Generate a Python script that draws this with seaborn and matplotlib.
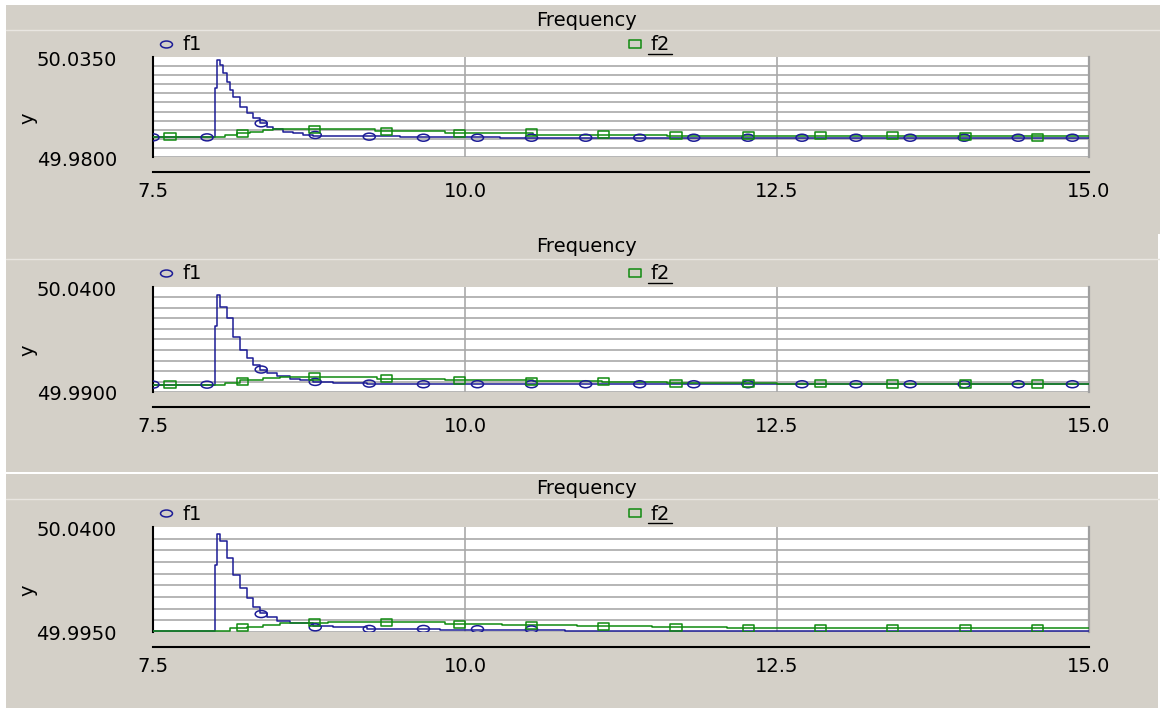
"""
Three stacked frequency panels (f1 / f2 step traces) in an old-style
chart look: grey frame, white plot area, x axis detached below.
"""

import numpy as np
import pandas as pd
import matplotlib
matplotlib.use("Agg")
import matplotlib.pyplot as plt
from matplotlib.path import Path
from matplotlib.transforms import Affine2D
from matplotlib.lines import Line2D
from matplotlib.patches import Rectangle
import seaborn as sns

# ── Data ──────────────────────────────────────────────────────────
X_TICKS = [7.5, 10.0, 12.5, 15.0]
X_LABELS = ["7.5", "10.0", "12.5", "15.0"]

F1_MARK_T = [7.500, 7.933, 8.367, 8.800, 9.233, 9.667, 10.100, 10.533, 10.967,
             11.400, 11.833, 12.267, 12.700, 13.133, 13.567, 14.000, 14.433, 14.867]
F2_MARK_T = [7.636, 8.215, 8.795, 9.374, 9.953, 10.532, 11.112, 11.691,
             12.270, 12.849, 13.429, 14.008, 14.587]

# panel 1
p1_f1_t = [7.500, 8.000, 8.015, 8.037, 8.063, 8.091, 8.117, 8.143, 8.197, 8.251,
           8.304, 8.357, 8.411, 8.464, 8.544, 8.624, 8.704, 8.784, 8.918, 9.479,
           10.280, 15.000]
p1_f1_v = [49.9910, 50.0181, 50.0334, 50.0306, 50.0260, 50.0214, 50.0169, 50.0132,
           50.0077, 50.0040, 50.0013, 49.9989, 49.9967, 49.9952, 49.9939, 49.9930,
           49.9921, 49.9916, 49.9913, 49.9910, 49.9907, 49.9907]
p1_f1_mv = [49.9908, 49.9908, 49.9985, 49.9921, 49.9912, 49.9906, 49.9906, 49.9906,
            49.9906, 49.9906, 49.9906, 49.9906, 49.9906, 49.9906, 49.9906, 49.9906,
            49.9906, 49.9906]
p1_f2_t = [7.500, 8.077, 8.173, 8.277, 8.381, 8.462, 9.279, 9.840, 10.545, 11.619, 15.000]
p1_f2_v = [49.9911, 49.9919, 49.9930, 49.9940, 49.9951, 49.9956, 49.9945, 49.9931,
           49.9921, 49.9913, 49.9913]
p1_f2_mv = [49.9912, 49.9930, 49.9949, 49.9940, 49.9930, 49.9934, 49.9925, 49.9916,
            49.9916, 49.9916, 49.9916, 49.9913, 49.9908]

# panel 2
p2_f1_t = [7.500, 8.000, 8.015, 8.037, 8.091, 8.143, 8.197, 8.251, 8.304, 8.357,
           8.411, 8.491, 8.598, 8.678, 8.784, 8.945, 9.212, 9.639, 15.000]
p2_f1_v = [49.9935, 50.0215, 50.0360, 50.0307, 50.0252, 50.0163, 50.0100, 50.0060,
           50.0028, 50.0007, 49.9991, 49.9975, 49.9961, 49.9956, 49.9948, 49.9943,
           49.9940, 49.9937, 49.9937]
p2_f1_mv = [49.9935, 49.9935, 50.0007, 49.9948, 49.9940, 49.9937, 49.9937, 49.9937,
            49.9937, 49.9937, 49.9937, 49.9937, 49.9937, 49.9937, 49.9937, 49.9937,
            49.9937, 49.9937]
p2_f2_t = [7.500, 8.077, 8.197, 8.384, 8.518, 9.292, 9.840, 10.545, 11.100, 11.619,
           12.500, 15.000]
p2_f2_v = [49.9935, 49.9943, 49.9956, 49.9969, 49.9972, 49.9964, 49.9956, 49.9951,
           49.9946, 49.9942, 49.9938, 49.9938]
p2_f2_mv = [49.9935, 49.9952, 49.9972, 49.9964, 49.9956, 49.9951, 49.9949, 49.9942,
            49.9942, 49.9940, 49.9938, 49.9938, 49.9938]

# panel 3 (markers sitting on the lower edge are not drawn in the reference)
p3_f1_t = [7.500, 8.000, 8.015, 8.037, 8.091, 8.143, 8.197, 8.251, 8.304, 8.357,
           8.411, 8.491, 8.598, 8.784, 8.945, 9.212, 9.800, 10.800, 15.000]
p3_f1_v = [49.9956, 50.0238, 50.0371, 50.0338, 50.0267, 50.0195, 50.0138, 50.0095,
           50.0059, 50.0033, 50.0016, 49.9999, 49.9987, 49.9976, 49.9970, 49.9963,
           49.9959, 49.9955, 49.9955]
p3_f1_mt = [8.367, 8.800, 9.233, 9.667, 10.100, 10.533]
p3_f1_mv = [50.0027, 49.9970, 49.9963, 49.9963, 49.9962, 49.9961]
p3_f2_t = [7.500, 8.117, 8.251, 8.384, 8.518, 8.598, 8.900, 9.840, 10.300, 10.900,
           11.500, 12.100, 15.000]
p3_f2_v = [49.9956, 49.9966, 49.9973, 49.9980, 49.9987, 49.9990, 49.9992, 49.9985,
           49.9981, 49.9976, 49.9972, 49.9966, 49.9966]
p3_f2_mt = F2_MARK_T[1:]
p3_f2_mv = [49.9970, 49.9992, 49.9990, 49.9983, 49.9979, 49.9974, 49.9969, 49.9965,
            49.9965, 49.9965, 49.9965, 49.9965]

# ── Style / layout ────────────────────────────────────────────────
W, H = 1160, 708
PX = 0.72                      # points per pixel at dpi 100
BG = "#d4d0c8"
SEP = "#e9e6e1"
GRID = "#a9a9a9"
BLUE = "#1c1c96"
GREEN = "#108a10"
FS = 14
AX_LEFT, AX_RIGHT = 153, 1089

ELLIPSE = Path.unit_circle().transformed(Affine2D().scale(1.0, 0.58))
BOX = Path.unit_rectangle().transformed(Affine2D().translate(-0.5, -0.5).scale(1.0, 0.64))

PANELS = [
    dict(top=57, bottom=157, ylo=49.980, yhi=50.035, lab=("50.0350", "49.9800"),
         title_y=20, sep_y=30, leg_y=44, ylab_y=118,
         f1=(p1_f1_t, p1_f1_v), f1m=(F1_MARK_T, p1_f1_mv),
         f2=(p1_f2_t, p1_f2_v), f2m=(F2_MARK_T, p1_f2_mv)),
    dict(top=287, bottom=392, ylo=49.990, yhi=50.040, lab=("50.0400", "49.9900"),
         title_y=247, sep_y=259, leg_y=273, ylab_y=350,
         f1=(p2_f1_t, p2_f1_v), f1m=(F1_MARK_T, p2_f1_mv),
         f2=(p2_f2_t, p2_f2_v), f2m=(F2_MARK_T, p2_f2_mv)),
    dict(top=527, bottom=632, ylo=49.995, yhi=50.040, lab=("50.0400", "49.9950"),
         title_y=488, sep_y=499, leg_y=513, ylab_y=590,
         f1=(p3_f1_t, p3_f1_v), f1m=(p3_f1_mt, p3_f1_mv),
         f2=(p3_f2_t, p3_f2_v), f2m=(p3_f2_mt, p3_f2_mv)),
]


def fx(x):
    return x / W


def fy(y):
    return 1 - y / H


def draw_panel(fig, p):
    ax = fig.add_axes([fx(AX_LEFT), fy(p["bottom"]),
                       fx(AX_RIGHT - AX_LEFT), (p["bottom"] - p["top"]) / H])
    ax.set_facecolor("white")

    # step traces
    for (t, v), color in ((p["f1"], BLUE), (p["f2"], GREEN)):
        df = pd.DataFrame({"t": t, "v": v})
        sns.lineplot(data=df, x="t", y="v", ax=ax, color=color, lw=1.1,
                     drawstyle="steps-post", estimator=None, sort=False, zorder=3)

    # hollow markers
    for (t, v), color, shape, size in ((p["f1m"], BLUE, ELLIPSE, 75),
                                       (p["f2m"], GREEN, BOX, 64)):
        df = pd.DataFrame({"t": t, "v": v})
        sns.scatterplot(data=df, x="t", y="v", ax=ax, marker=shape, s=size,
                        facecolors="none", edgecolor=color, linewidth=1.1, zorder=4)

    ax.set_xlim(7.5, 15.0)
    ax.set_ylim(p["ylo"], p["yhi"])
    ax.set_xlabel("")
    ax.set_ylabel("")

    ax.set_xticks(X_TICKS)
    ax.set_xticklabels(X_LABELS)
    ax.set_yticks(np.arange(p["ylo"], p["yhi"] - 1e-9, 0.005))
    ax.tick_params(axis="y", direction="out", length=8 * PX, width=1.5,
                   color="black", labelleft=False)
    ax.tick_params(axis="x", direction="out", length=7 * PX, width=1.5,
                   color="black", pad=3 * PX, labelsize=FS, labelcolor="black")
    ax.grid(True, color=GRID, lw=1.2, zorder=1)
    ax.set_axisbelow(True)

    ax.spines["top"].set_visible(False)
    ax.spines["right"].set_color("#a0a0a0")
    ax.spines["right"].set_linewidth(1.6)
    ax.spines["left"].set_color("black")
    ax.spines["left"].set_linewidth(1.5)
    ax.spines["bottom"].set_color("black")
    ax.spines["bottom"].set_linewidth(1.5)
    ax.spines["bottom"].set_position(("outward", 15 * PX))

    # y range labels at the two ends of the axis
    ax.annotate(p["lab"][0], xy=(0, 1), xycoords="axes fraction",
                xytext=(-36, -4), textcoords="offset pixels",
                ha="right", va="center", fontsize=FS)
    ax.annotate(p["lab"][1], xy=(0, 0), xycoords="axes fraction",
                xytext=(-36, -3), textcoords="offset pixels",
                ha="right", va="center", fontsize=FS)

    # legend row above the plot area
    handles = [
        Line2D([], [], marker=ELLIPSE, markersize=8.6, mfc="none", mec=BLUE,
               mew=1.1, linestyle="none", label="f1"),
        Line2D([], [], marker=BOX, markersize=8.0, mfc="none", mec=GREEN,
               mew=1.1, linestyle="none", label="f2"),
    ]
    ax.legend(handles=handles, ncol=2, loc="center left", frameon=False,
              bbox_to_anchor=(fx(159), fy(p["leg_y"] + 1)), bbox_transform=fig.transFigure,
              borderpad=0, borderaxespad=0, handlelength=0.75, handletextpad=0.45,
              columnspacing=21.9, fontsize=FS)
    fig.add_artist(Line2D([fx(648), fx(672)], [fy(p["leg_y"] + 10)] * 2,
                          color="black", lw=1.0, transform=fig.transFigure))

    fig.text(fx(587), fy(p["title_y"]), "Frequency", ha="center", va="center",
             fontsize=FS)
    fig.text(fx(28), fy(p["ylab_y"]), "y", rotation=90, ha="center", va="center",
             fontsize=FS)
    fig.add_artist(Line2D([fx(6), fx(1160)], [fy(p["sep_y"])] * 2, color=SEP,
                          lw=1.0, transform=fig.transFigure))
    return ax


def main():
    sns.set_theme(style="white")
    plt.rcParams["font.family"] = ["DejaVu Sans"]
    plt.rcParams["text.color"] = "black"
    plt.rcParams["xtick.color"] = "black"

    fig = plt.figure(figsize=(W / 100, H / 100), dpi=100, facecolor="white")

    # grey panel frames
    for x0, y0, x1, y1 in ((6, 5, 1160, 234), (6, 234, 1158, 471.5), (6, 473.5, 1158, 708)):
        fig.add_artist(Rectangle((fx(x0), fy(y1)), fx(x1 - x0), (y1 - y0) / H,
                                 transform=fig.transFigure, facecolor=BG,
                                 edgecolor="none", zorder=-10))

    for p in PANELS:
        draw_panel(fig, p)

    fig.savefig("out.png", dpi=100, facecolor="white")
    plt.close(fig)


if __name__ == "__main__":
    main()
